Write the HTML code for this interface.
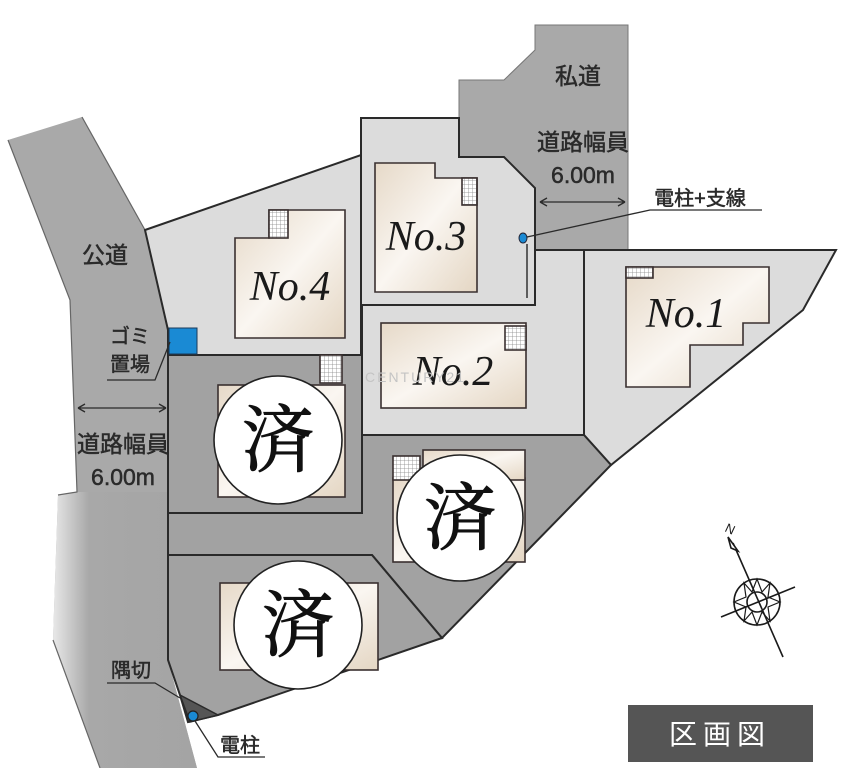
<!DOCTYPE html>
<html><head><meta charset="utf-8"><style>
html,body{margin:0;padding:0;background:#fff}
svg{display:block}
text{font-family:"Liberation Sans","Noto Sans CJK JP",sans-serif;fill:#2a2a2a}
.lb{stroke:#2a2a2a;stroke-width:0.5}
.no{font-family:"Liberation Serif","Noto Serif CJK SC",serif;font-style:italic;font-size:42px;fill:#1a1a1a}
.sai{font-family:"Liberation Serif","Noto Serif CJK SC",serif;font-size:72px;fill:#111;stroke:#111;stroke-width:1}
</style></head><body>
<svg width="854" height="768" viewBox="0 0 854 768" xmlns="http://www.w3.org/2000/svg">
<defs>
<linearGradient id="h" x1="0" y1="0" x2="1" y2="1">
<stop offset="0" stop-color="#e6d9c8"/><stop offset="0.5" stop-color="#faf6f1"/><stop offset="1" stop-color="#e4d6c3"/></linearGradient>
<linearGradient id="rd" x1="0" y1="0" x2="1" y2="0">
<stop offset="0" stop-color="#e8e8e8"/><stop offset="0.25" stop-color="#a8a8a8"/><stop offset="1" stop-color="#a4a4a4"/></linearGradient>
<pattern id="g" width="4" height="4" patternUnits="userSpaceOnUse"><rect width="4" height="4" fill="#fff"/><path d="M0 0H4M0 0V4" stroke="#888" stroke-width="0.8"/></pattern>
</defs>
<!-- public road -->
<polygon points="8,140 82,117 145,230 168,330 168,660 197,768 100,768 53,640 58,495 77,492 70,300" fill="#a9a9a9"/>
<polygon points="58,495 77,492 168,492 168,660 197,768 100,768 53,640" fill="url(#rd)"/>
<path d="M8,140 L70,300 L77,492 L58,495" fill="none" stroke="#666" stroke-width="1.2"/>
<path d="M82,117 L145,230" fill="none" stroke="#666" stroke-width="1.2"/>
<path d="M53,640 L100,768" fill="none" stroke="#666" stroke-width="1.2"/>
<!-- private road -->
<polygon points="535,25 628,25 628,250 535,250 535,188 504,157 459,157 459,80 504,80 535,50" fill="#a9a9a9" stroke="#777" stroke-width="1"/>
<!-- lots -->
<g stroke="#2a2a2a" stroke-width="2" stroke-linejoin="miter">
<polygon points="145,230 361,155 361,355 168,355 168,330" fill="#dcdcdc"/>
<polygon points="361,118 459,118 459,157 504,157 535,188 535,305 361,305" fill="#dcdcdc"/>
<polygon points="362,305 535,305 535,250 584,250 584,435 362,435" fill="#dcdcdc"/>
<polygon points="584,250 836,250 803,310 611,465 584,435" fill="#dcdcdc"/>
<polygon points="168,355 362,355 362,513 168,513" fill="#a2a2a2"/>
<polygon points="362,435 584,435 611,465 442,638 372,555 168,555 168,513 362,513" fill="#a2a2a2"/>
<polygon points="168,555 372,555 442,638 218,715 188,722 180,695 168,660" fill="#a2a2a2"/>
</g>
<polygon points="180,695 218,715 190,722" fill="#555" stroke="#2a2a2a" stroke-width="1.5"/>
<rect x="169" y="328" width="28" height="26" fill="#1a8ad4" stroke="#1a3a5a" stroke-width="1"/>
<!-- houses -->
<g stroke="#3a3030" stroke-width="1.6">
<polygon points="235,238 269,238 269,210 345,210 345,338 235,338" fill="url(#h)"/>
<rect x="269" y="210" width="19" height="28" fill="url(#g)"/>
<polygon points="375,163 435,163 435,178 477,178 477,292 375,292" fill="url(#h)"/>
<rect x="462" y="178" width="15" height="27" fill="url(#g)"/>
<rect x="381" y="323" width="145" height="85" fill="url(#h)"/>
<rect x="505" y="326" width="21" height="24" fill="url(#g)"/>
<polygon points="626,267 769,267 769,323 743,323 743,345 690,345 690,387 626,387" fill="url(#h)"/>
<rect x="626" y="267" width="27" height="11" fill="url(#g)"/>
<rect x="218" y="385" width="127" height="112" fill="url(#h)"/>
<rect x="320" y="355" width="22" height="28" fill="url(#g)"/>
<rect x="393" y="478" width="132" height="84" fill="url(#h)"/>
<rect x="423" y="450" width="102" height="30" fill="url(#h)"/>
<rect x="393" y="456" width="27" height="24" fill="url(#g)"/>
<rect x="220" y="583" width="158" height="87" fill="url(#h)"/>
</g>
<!-- poles -->
<line x1="527" y1="244" x2="527" y2="298" stroke="#333" stroke-width="1.5"/>
<ellipse cx="523" cy="238" rx="4" ry="5" fill="#1a8ad4" stroke="#223" stroke-width="1"/>
<circle cx="193" cy="716" r="5" fill="#1a8ad4" stroke="#222" stroke-width="1.2"/>
<!-- leader lines -->
<g stroke="#2a2a2a" stroke-width="1.3" fill="none">
<path d="M527,237 L650,210 L762,210"/>
<path d="M170,342 L155,380 L107,380"/>
<path d="M180,698 L155,683 L107,683"/>
<path d="M195,721 L218,757 L265,757"/>
<path d="M540,202 L625,202 M540,202 l7,-4 M540,202 l7,4 M625,202 l-7,-4 M625,202 l-7,4"/>
<path d="M78,408 L166,408 M78,408 l7,-4 M78,408 l7,4 M166,408 l-7,-4 M166,408 l-7,4"/>
</g>
<!-- names -->
<text class="no" x="290" y="300" text-anchor="middle">No.4</text>
<text class="no" x="426" y="250" text-anchor="middle">No.3</text>
<text class="no" x="453" y="385" text-anchor="middle">No.2</text>
<text class="no" x="686" y="327" text-anchor="middle">No.1</text>
<text x="365" y="382" font-size="14" style="fill:#c4c4c4;letter-spacing:2px">CENTURY21</text>
<!-- sold circles -->
<g fill="#fff" stroke="#222" stroke-width="1.6">
<circle cx="278" cy="440" r="64"/><circle cx="460" cy="518" r="63"/><circle cx="298" cy="625" r="64"/>
</g>
<text class="sai" x="278" y="465" text-anchor="middle">済</text>
<text class="sai" x="460" y="543" text-anchor="middle">済</text>
<text class="sai" x="298" y="650" text-anchor="middle">済</text>
<!-- labels -->
<g font-size="23" class="lb">
<text x="105" y="263" text-anchor="middle">公道</text>
<text x="578" y="84" text-anchor="middle">私道</text>
<text x="583" y="150" text-anchor="middle">道路幅員</text>
<text x="583" y="183" text-anchor="middle">6.00m</text>
<text x="123" y="452" text-anchor="middle">道路幅員</text>
<text x="123" y="485" text-anchor="middle">6.00m</text>
</g>
<g font-size="20" class="lb">
<text x="700" y="205" text-anchor="middle">電柱+支線</text>
<text x="130" y="343" text-anchor="middle">ゴミ</text>
<text x="130" y="371" text-anchor="middle">置場</text>
<text x="131" y="677" text-anchor="middle">隅切</text>
<text x="240" y="752" text-anchor="middle">電柱</text>
</g>
<!-- compass -->
<g stroke="#1a1a1a" stroke-width="1.6" fill="none">
<line x1="733" y1="543" x2="783" y2="657"/>
<line x1="721" y1="617" x2="795" y2="587"/>
<circle cx="757" cy="602" r="23"/>
<circle cx="757" cy="602" r="10"/>
<path d="M757,579 L762,592 L770,583 L768,597 L780,602 L768,607 L770,621 L762,612 L757,625 L752,612 L744,621 L746,607 L734,602 L746,597 L744,583 L752,592 Z" stroke-width="1.2"/>
<path d="M728,537 L731,548 L738,551 Z" fill="#fff"/>
</g>
<text x="724" y="531" font-size="13" font-family="Liberation Serif,serif" transform="rotate(25 724 531)" style="fill:#1a1a1a">N</text>
<!-- title box -->
<rect x="628" y="705" width="185" height="57" fill="#555"/>
<text x="720" y="744" font-size="28" text-anchor="middle" style="fill:#fff;letter-spacing:6px">区画図</text>
</svg>
</body></html>
